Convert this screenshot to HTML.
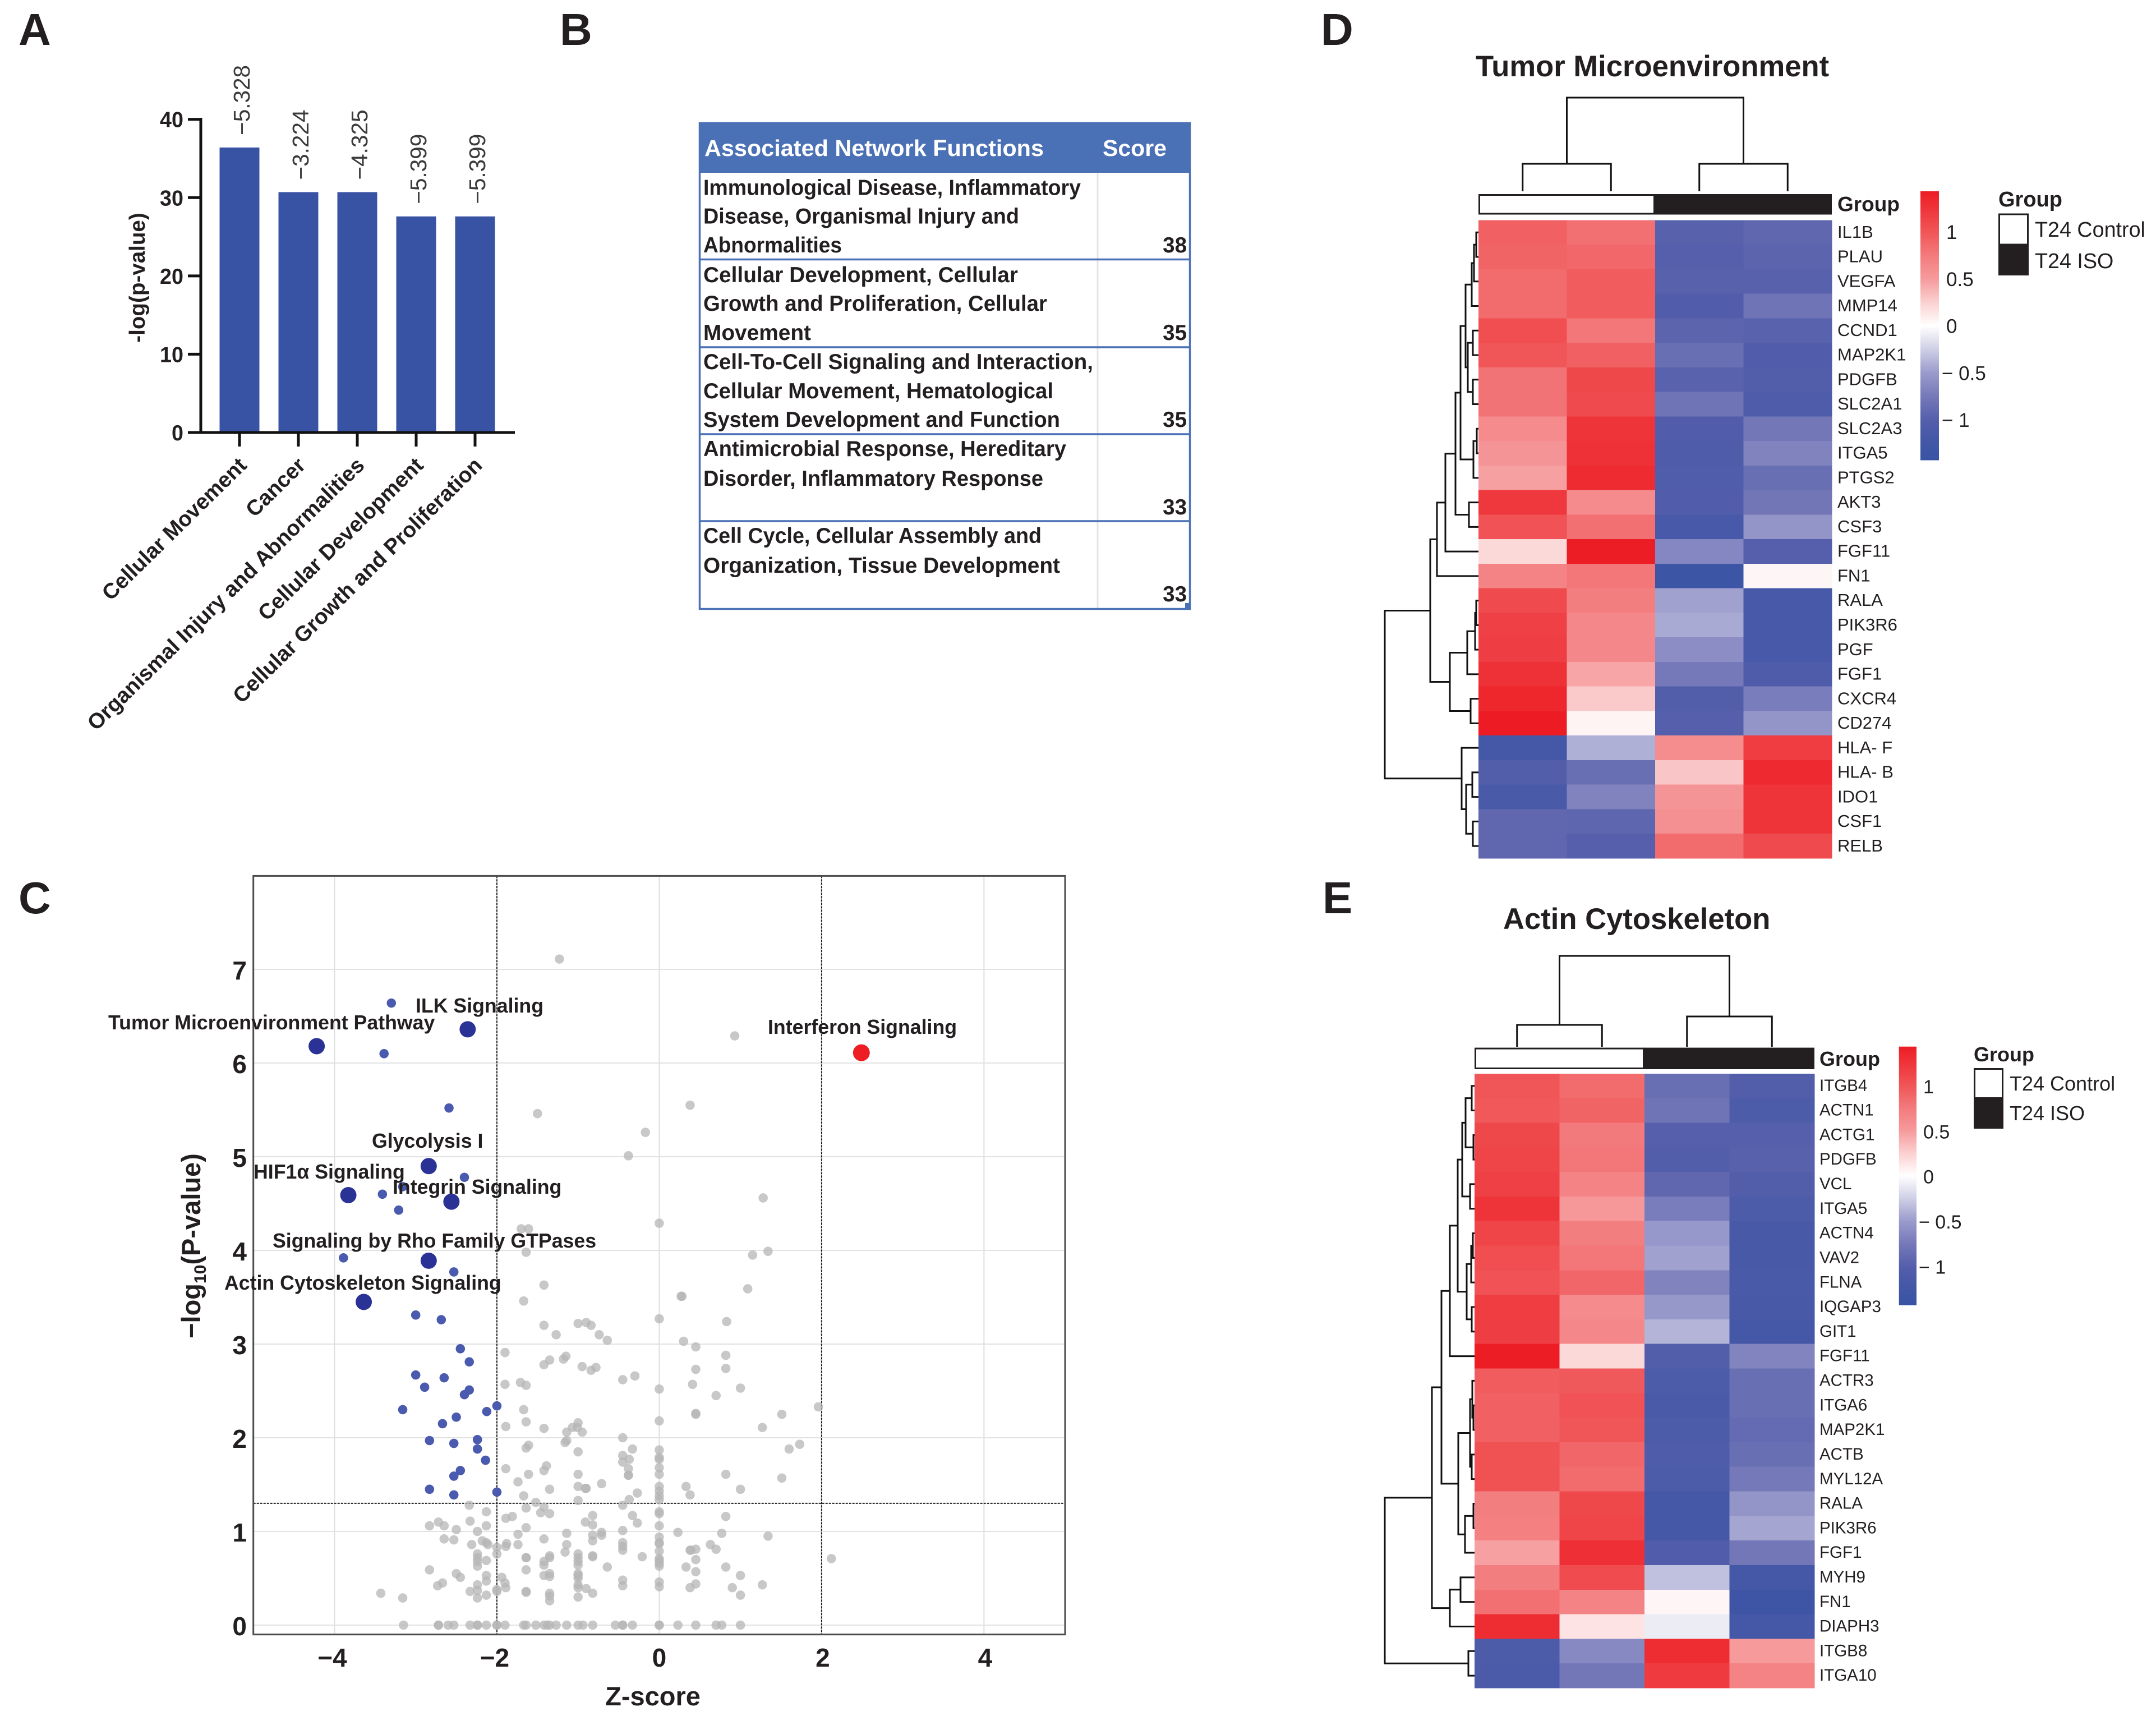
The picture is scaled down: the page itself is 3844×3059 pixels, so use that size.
<!DOCTYPE html>
<html lang="en">
<head>
<meta charset="utf-8">
<title>Multi-panel pathway analysis figure</title>
<style>
html,body{margin:0;padding:0;background:#fff;}
svg{display:block;font-family:"Liberation Sans",Arial,sans-serif;}
text{fill:#231f20;}
.b{font-weight:bold;}
.tb{font-size:38.5px;font-weight:bold;}
.lab{font-size:35.7px;font-weight:bold;}
.pl{font-size:80px;font-weight:bold;}
</style>
</head>
<body>
<svg id="fig" xmlns="http://www.w3.org/2000/svg" width="3844" height="3059" viewBox="0 0 3844 3059">
<rect x="0" y="0" width="3844" height="3059" fill="#fff"/>
<text class="pl" x="33" y="80">A</text>
<text class="pl" x="998" y="80">B</text>
<text class="pl" x="33" y="1628">C</text>
<text class="pl" x="2355" y="80">D</text>
<text class="pl" x="2358" y="1628">E</text>

<g id="panelA"></g>

<g>
  <rect x="1246" y="218" width="877" height="90" fill="#4a70b6"/>
  <line x1="1957" y1="308" x2="1957" y2="1085" stroke="#e4e4e4" stroke-width="3"/>
  <rect x="1247.5" y="219.5" width="874" height="866" fill="none" stroke="#4a70b6" stroke-width="3.5"/>
  <line x1="1246" y1="462.5" x2="2123" y2="462.5" stroke="#4a70b6" stroke-width="3.5"/>
  <line x1="1246" y1="619" x2="2123" y2="619" stroke="#4a70b6" stroke-width="3.5"/>
  <line x1="1246" y1="774" x2="2123" y2="774" stroke="#4a70b6" stroke-width="3.5"/>
  <line x1="1246" y1="929" x2="2123" y2="929" stroke="#4a70b6" stroke-width="3.5"/>
  <rect x="2113" y="1075" width="10" height="11" fill="#4a70b6"/>
  <text class="b" x="1256" y="278" font-size="41" style="fill:#fff" textLength="605" lengthAdjust="spacingAndGlyphs">Associated Network Functions</text>
  <text class="b" x="1966" y="278" font-size="41" style="fill:#fff" textLength="114" lengthAdjust="spacingAndGlyphs">Score</text>
  <text class="tb" x="1254" y="347.5" textLength="673" lengthAdjust="spacingAndGlyphs">Immunological Disease, Inflammatory</text>
  <text class="tb" x="1254" y="398.5" textLength="563" lengthAdjust="spacingAndGlyphs">Disease, Organismal Injury and</text>
  <text class="tb" x="1254" y="450" textLength="247" lengthAdjust="spacingAndGlyphs">Abnormalities</text>
  <text class="tb" x="2116" y="450" text-anchor="end">38</text>
  <text class="tb" x="1254" y="503" textLength="561" lengthAdjust="spacingAndGlyphs">Cellular Development, Cellular</text>
  <text class="tb" x="1254" y="554" textLength="613" lengthAdjust="spacingAndGlyphs">Growth and Proliferation, Cellular</text>
  <text class="tb" x="1254" y="606" textLength="192" lengthAdjust="spacingAndGlyphs">Movement</text>
  <text class="tb" x="2116" y="606" text-anchor="end">35</text>
  <text class="tb" x="1254" y="658" textLength="695" lengthAdjust="spacingAndGlyphs">Cell-To-Cell Signaling and Interaction,</text>
  <text class="tb" x="1254" y="710" textLength="624" lengthAdjust="spacingAndGlyphs">Cellular Movement, Hematological</text>
  <text class="tb" x="1254" y="761" textLength="636" lengthAdjust="spacingAndGlyphs">System Development and Function</text>
  <text class="tb" x="2116" y="761" text-anchor="end">35</text>
  <text class="tb" x="1254" y="813" textLength="647" lengthAdjust="spacingAndGlyphs">Antimicrobial Response, Hereditary</text>
  <text class="tb" x="1254" y="866" textLength="606" lengthAdjust="spacingAndGlyphs">Disorder, Inflammatory Response</text>
  <text class="tb" x="2116" y="917" text-anchor="end">33</text>
  <text class="tb" x="1254" y="968" textLength="603" lengthAdjust="spacingAndGlyphs">Cell Cycle, Cellular Assembly and</text>
  <text class="tb" x="1254" y="1021" textLength="636" lengthAdjust="spacingAndGlyphs">Organization, Tissue Development</text>
  <text class="tb" x="2116" y="1072" text-anchor="end">33</text>
</g>

<g id="panelC"></g>
<g>
  <text class="lab" x="193" y="1835">Tumor Microenvironment Pathway</text>
  <text class="lab" x="741" y="1805">ILK Signaling</text>
  <text class="lab" x="1369" y="1843">Interferon Signaling</text>
  <text class="lab" x="663" y="2046">Glycolysis I</text>
  <text class="lab" x="452" y="2101">HIF1α Signaling</text>
  <text class="lab" x="700" y="2128">Integrin Signaling</text>
  <text class="lab" x="486" y="2224">Signaling by Rho Family GTPases</text>
  <text class="lab" x="400" y="2299">Actin Cytoskeleton Signaling</text>
</g>
<text class="b" x="1164" y="3040" font-size="47" text-anchor="middle">Z-score</text>
<text class="b" transform="translate(357 2221) rotate(-90)" font-size="47" text-anchor="middle">−log<tspan font-size="30" dy="10">10</tspan><tspan dy="-10">(P-value)</tspan></text>

<g id="panelD"></g>
<g id="panelE"></g>

<text class="b" x="2631" y="136" font-size="52.6">Tumor Microenvironment</text>
<text class="b" x="2680" y="1656" font-size="52.6">Actin Cytoskeleton</text>

<g>
  <text class="b" x="3563" y="368" font-size="38">Group</text>
  <rect x="3564.5" y="382" width="51" height="54" fill="#fff" stroke="#231f20" stroke-width="3"/>
  <rect x="3563" y="435" width="54" height="56" fill="#231f20"/>
  <text x="3628" y="422" font-size="37.7">T24 Control</text>
  <text x="3628" y="478" font-size="37.7">T24 ISO</text>
</g>
<g>
  <text class="b" x="3519" y="1892" font-size="36">Group</text>
  <rect x="3520.5" y="1905.5" width="50" height="52" fill="#fff" stroke="#231f20" stroke-width="3"/>
  <rect x="3519" y="1957" width="53" height="55" fill="#231f20"/>
  <text x="3583" y="1944" font-size="36">T24 Control</text>
  <text x="3583" y="1997" font-size="36">T24 ISO</text>
</g>
</svg>

<script>
/* ---------- Panel A data ---------- */
const aCategories = ["Cellular Movement","Cancer","Organismal Injury and Abnormalities","Cellular Development","Cellular Growth and Proliferation"];
const aValues = [36.4,30.7,30.7,27.6,27.6];
const aZLabels = ["−5.328","−3.224","−4.325","−5.399","−5.399"];
const aTicks = [0,10,20,30,40];

/* ---------- Panel C data (z-score, -log10 p) ---------- */
const grayPoints = [
[-1.23,7.11],[-1.50,5.46],[0.93,6.29],[0.38,5.55],[-0.17,5.26],[-0.38,5.01],[1.28,4.56],[0,4.29],[1.34,3.99],[1.15,3.95],[1.09,3.59],[0.27,3.51],
[-1.70,4.23],[-1.61,4.23],[-1.64,3.98],[-1.42,3.63],[-1.67,3.46],
[-1.42,3.20],[-1.27,3.10],[-1.00,3.22],[-0.90,3.23],[-0.84,3.20],[-0.74,3.10],[-0.64,3.04],
[-1.90,2.91],[-1.42,2.78],[-1.35,2.83],[-1.18,2.84],[-1.15,2.87],[-0.95,2.76],[-0.84,2.72],[-0.78,2.75],
[-1.90,2.57],[-1.71,2.59],[-1.64,2.56],[-1.67,2.30],[-1.64,2.17],[-1.89,2.12],[-1.42,2.10],[-1.14,2.06],[-1.07,2.11],[-1.00,2.16],[-1.01,2.11],[-0.95,2.06],
[-1.16,1.95],[-1.14,1.97],[-1.00,1.85],[-1.64,1.89],[-1.61,1.92],
[-1.39,1.70],[-1.42,1.65],[-1.89,1.67],[-1.61,1.61],[-1.00,1.61],[-1.74,1.53],[-0.71,1.51],[-1.00,1.48],[-0.91,1.46],[-0.90,1.46],[-1.35,1.45],[-1.67,1.38],
[-1.00,1.33],[-1.52,1.31],[-2.34,1.28],[-1.42,1.26],[-1.64,1.25],[-2.13,1.21],[-1.46,1.20],[-1.35,1.19],[-0.82,1.17],
[-1.89,1.14],[-1.81,1.16],[-2.33,1.11],[-2.72,1.10],[-2.83,1.06],[-2.65,1.06],[-2.13,1.06],[-2.50,1.02],[-1.64,1.04],[-0.91,1.10],[-0.82,1.07],[-2.24,1.00],[-1.14,0.98],[-0.71,0.99],[-0.71,0.96],[-0.82,0.96],[-1.74,0.97],[-1.42,0.92],
[-2.65,0.92],[-2.53,0.91],[-2.18,0.90],[-2.13,0.88],[-2.11,0.86],[-2.31,0.86],[-1.88,0.87],[-1.89,0.84],[-1.74,0.86],[-1.14,0.86],[-0.82,0.90],[-2.00,0.83],[-2.00,0.76],
[-2.24,0.76],[-2.24,0.72],[-2.24,0.68],[-2.24,0.63],[-2.13,0.69],[-1.64,0.72],[-1.64,0.72],[-1.42,0.68],[-1.35,0.74],[-1.35,0.72],[-1.42,0.64],[-1.16,0.78],[-1.00,0.76],[-1.00,0.72],[-1.00,0.68],[-1.00,0.64],[-0.82,0.74],[-0.82,0.73],[-0.64,0.62],
[-2.83,0.59],[-1.64,0.59],[-2.50,0.55],[-2.45,0.51],[-2.13,0.53],[-2.13,0.47],[-1.94,0.51],[-1.42,0.53],[-1.35,0.55],[-1.35,0.52],[-1.00,0.55],[-1.00,0.53],[-1.00,0.50],
[-2.67,0.45],[-2.73,0.42],[-2.24,0.43],[-1.90,0.45],[-1.89,0.40],[-2.33,0.36],[-2.24,0.37],[-2.00,0.38],[-2.00,0.36],[-1.64,0.36],[-1.64,0.35],[-1.35,0.34],[-1.35,0.31],[-1.00,0.43],[-1.00,0.40],[-0.90,0.39],[-0.82,0.34],[-1.00,0.30],
[-3.43,0.34],[-3.16,0.29],[-2.24,0.29],[-2.13,0.32],[-1.35,0.26],
[0.28,3.51],[0,3.27],[0.83,3.24],[0.30,3.03],[0.45,2.97],[0.82,2.88],[0.45,2.73],[0.82,2.74],[-0.30,2.66],[-0.45,2.62],[0,2.52],[0.41,2.57],[1.00,2.53],[0.70,2.45],[1.96,2.33],[0.45,2.25],[0.45,2.26],[1.51,2.25],[0,2.18],[1.27,2.11],[-0.45,2.00],[1.73,1.93],[1.60,1.88],[-0.33,1.88],[0,1.87],[-0.45,1.81],[-0.37,1.77],[0,1.79],[0,1.77],[-0.45,1.74],[-0.38,1.67],[0,1.68],[0,1.61],[-0.38,1.60],[-0.38,1.60],[0.82,1.61],[1.51,1.57],[0.33,1.48],[0,1.48],[0,1.43],[1.00,1.45],[-0.27,1.41],[0.38,1.39],[0,1.38],[-0.37,1.34],[0,1.34],[-0.45,1.28],[0,1.21],[0,1.19],[-0.33,1.17],[0.82,1.16],[-0.27,1.09],[0,1.06],[-0.45,1.01],[0.23,0.99],[0.77,0.98],[1.34,0.95],[0,0.94],[-0.45,0.88],[0,0.87],[0,0.88],[0.63,0.86],[-0.45,0.84],[-0.45,0.80],[0,0.79],[0.38,0.80],[0.39,0.80],[0.45,0.81],[0.70,0.81],[-0.21,0.73],[2.12,0.71],[0,0.71],[0,0.69],[0.45,0.70],[0,0.66],[0,0.63],[0.33,0.62],[0.82,0.62],[0.45,0.57],[1.00,0.53],[-0.45,0.48],[0,0.46],[-0.45,0.42],[0,0.41],[0.45,0.44],[0.38,0.40],[0.90,0.40],[1.27,0.43],[1.00,0.32]
];
const grayZeroZ = [-3.15,-2.72,-2.72,-2.60,-2.53,-2.33,-2.24,-2.24,-2.13,-2.00,-2.00,-1.90,-1.67,-1.64,-1.52,-1.42,-1.38,-1.35,-1.27,-1.14,-1.00,-0.94,-0.82,-0.54,-0.45,-0.45,-0.33,0,0,0.23,0.45,0.70,0.77,1.00];
const blueSmallPoints = [
[-3.30,6.64],[-3.39,6.10],[-2.59,5.52],[-2.40,4.78],[-3.41,4.60],[-3.16,4.68],[-3.21,4.43],[-3.89,3.92],[-2.53,3.77],
[-3.00,3.31],[-2.685,3.26],[-2.45,2.95],[-2.34,2.81],[-3.00,2.67],[-2.65,2.64],[-2.89,2.54],[-2.34,2.51],[-2.40,2.46],[-3.16,2.30],[-2.00,2.34],[-2.125,2.28],[-2.50,2.22],[-2.67,2.15],[-2.83,1.97],[-2.53,1.94],[-2.24,1.98],[-2.24,1.88],[-2.14,1.76],[-2.45,1.65],[-2.53,1.59],[-2.83,1.45],[-2.53,1.39],[-2.00,1.42]
];
const blueLargeZ = [-4.22,-2.36,-2.84,-3.83,-2.56,-2.84,-3.64];
const blueLargeP = [6.18,6.36,4.90,4.59,4.52,3.89,3.45];
const redZ = [2.49];
const redP = [6.11];
const cXTicks = [-4,-2,0,2,4];
const cYTicks = [0,1,2,3,4,5,6,7];
const zThresholds = [-2,2];
const pThreshold = 1.3;

/* ---------- Heatmap data ---------- */
const dGenes = ["IL1B","PLAU","VEGFA","MMP14","CCND1","MAP2K1","PDGFB","SLC2A1","SLC2A3","ITGA5","PTGS2","AKT3","CSF3","FGF11","FN1","RALA","PIK3R6","PGF","FGF1","CXCR4","CD274","HLA- F","HLA- B","IDO1","CSF1","RELB"];
const dValues = [
[0.92,0.82,-0.98,-0.92],[0.90,0.87,-1.00,-0.95],[0.85,0.95,-0.98,-0.98],[0.85,0.95,-1.05,-0.80],
[1.05,0.78,-0.95,-0.97],[1.00,0.92,-0.85,-1.05],[0.80,1.10,-0.97,-1.03],[0.80,1.08,-0.80,-1.08],
[0.62,1.25,-1.05,-0.77],[0.55,1.27,-1.08,-0.68],[0.47,1.32,-1.07,-0.85],[1.22,0.62,-1.05,-0.78],
[1.02,0.82,-1.17,-0.55],[0.20,1.42,-0.65,-1.00],[0.68,0.78,-1.35,0.05],[1.08,0.72,-0.47,-1.17],
[1.15,0.65,-0.43,-1.17],[1.17,0.65,-0.60,-1.17],[1.27,0.45,-0.75,-1.08],[1.35,0.28,-1.02,-0.72],
[1.43,0.06,-1.00,-0.55],[-1.22,-0.40,0.60,1.18],[-1.02,-0.85,0.30,1.33],[-1.15,-0.68,0.55,1.25],
[-0.92,-0.93,0.58,1.25],[-0.92,-1.00,0.85,1.08]
];
const dRowTree = [167,[86,[74,[59,[41,[32,[23,[12,[8,[4,0,1],2],3],[19,[10,4,5],[10,6,7]]],[9,[3,8,9],10]],[17,11,12]],13],14],[51,[20,[6,[4,15,16],17],18],[14,19,20]]],[30,21,[22,[11,22,23],[10,24,25]]]];
const dColTree = [167,[49,0,1],[49,2,3]];

const eGenes = ["ITGB4","ACTN1","ACTG1","PDGFB","VCL","ITGA5","ACTN4","VAV2","FLNA","IQGAP3","GIT1","FGF11","ACTR3","ITGA6","MAP2K1","ACTB","MYL12A","RALA","PIK3R6","FGF1","MYH9","FN1","DIAPH3","ITGB8","ITGA10"];
const eValues = [
[1.00,0.85,-0.85,-1.02],[0.98,0.90,-0.80,-1.10],[1.10,0.75,-1.00,-1.00],[1.12,0.78,-1.03,-0.98],
[1.15,0.68,-0.92,-1.02],[1.25,0.52,-0.72,-1.10],[1.12,0.72,-0.53,-1.18],[1.05,0.77,-0.47,-1.18],
[1.02,0.88,-0.68,-1.15],[1.18,0.62,-0.52,-1.18],[1.17,0.65,-0.38,-1.20],[1.42,0.20,-1.03,-0.67],
[0.95,0.97,-1.10,-0.85],[0.92,1.02,-1.13,-0.85],[0.92,1.00,-1.10,-0.88],[1.03,0.88,-1.08,-0.85],
[1.03,0.85,-1.10,-0.75],[0.72,1.10,-1.22,-0.55],[0.70,1.12,-1.22,-0.45],[0.47,1.28,-1.05,-0.77],
[0.72,1.07,-0.32,-1.22],[0.82,0.68,0.05,-1.33],[1.30,0.15,-0.10,-1.22],[-1.10,-0.63,1.30,0.50],[-1.12,-0.77,1.20,0.68]
];
const eRowTree = [160,[76,[59,[44,[30,[22,[16,[5,0,1],[2,2,3]],[8,4,5]],[14,[6,[3,6,7],8],[5,9,10]]],11],[29,[8,[4,12,[2,13,14]],[5,15,16]],[17,[2,17,18],19]]],[44,[25,20,21],22]],[11,23,24]];
const eColTree = [162,[39,0,1],[54,2,3]];

const colorTicks = [1,0.5,0,-0.5,-1];
const colorStopValues = [1.43,1,0.75,0.5,0.25,0,-0.25,-0.5,-0.75,-1,-1.2,-1.43];
const colorStopHex = ["#ed1c24","#f05557","#f37a7c","#f69a9c","#fbd0d0","#ffffff","#cfcfe6","#9a9bcc","#7679b9","#555fab","#4558a7","#3953a4"];

/* ---------- Helpers ---------- */
const NS = "http://www.w3.org/2000/svg";
function mk(tag, attrs, parent){
  const n = document.createElementNS(NS, tag);
  for(const k in attrs){ n.setAttribute(k, attrs[k]); }
  parent.appendChild(n);
  return n;
}
function hexRgb(h){ return [parseInt(h.slice(1,3),16),parseInt(h.slice(3,5),16),parseInt(h.slice(5,7),16)]; }
function colorFor(v){
  const vals = colorStopValues;
  if(v >= vals[0]) return colorStopHex[0];
  if(v <= vals[vals.length-1]) return colorStopHex[vals.length-1];
  for(let i=0;i<vals.length-1;i++){
    if(v <= vals[i] && v >= vals[i+1]){
      const t = (vals[i]-v)/(vals[i]-vals[i+1]);
      const a = hexRgb(colorStopHex[i]), b = hexRgb(colorStopHex[i+1]);
      return "rgb("+a.map((c,j)=>Math.round(c+(b[j]-c)*t)).join(",")+")";
    }
  }
  return "#fff";
}
function treeDraw(node, posFn, heightFn, parent, name, horizontal){
  if(typeof node === "number") return {pos:posFn(node), h:0};
  const a = treeDraw(node[1], posFn, heightFn, parent, name, horizontal);
  const b = treeDraw(node[2], posFn, heightFn, parent, name, horizontal);
  const h = node[0];
  const d = horizontal
    ? "M"+heightFn(a.h)+" "+a.pos+"H"+heightFn(h)+"V"+b.pos+"H"+heightFn(b.h)
    : "M"+a.pos+" "+heightFn(a.h)+"V"+heightFn(h)+"H"+b.pos+"V"+heightFn(b.h);
  const link = mk("path",{d:d,fill:"none",stroke:"#111",'stroke-width':3},parent);
  
  
  return {pos:(a.pos+b.pos)/2, h:h};
}

/* ---------- Panel A ---------- */
(function(){
  const g = document.getElementById("panelA");
  const y = v => 771 - v*(771-212.7)/40;
  const x = i => 427 + i*105;
  aValues.forEach((v,i)=>{
    const bar = mk("rect",{x:x(i)-35.5,y:y(v),width:71,height:771-y(v),fill:"#3953a4"},g);
    
    
    const val = mk("text",{transform:"translate("+(x(i)+18)+" "+(y(v)-22)+") rotate(-90)",'font-size':40.5,style:"fill:#3a3a3a"},g);
    
    
    val.textContent = aZLabels[i];
    const tick = mk("line",{x1:x(i),x2:x(i),y1:771,y2:796,stroke:"#111",'stroke-width':5},g);
    
    
    const lab = mk("text",{transform:"translate("+(x(i)+15)+" 832) rotate(-44.5)",'font-size':38.6,'font-weight':"bold",'text-anchor':"end"},g);
    
    
    lab.textContent = aCategories[i];
  });
  aTicks.forEach(t=>{
    const tick = mk("line",{x1:335,x2:358,y1:y(t),y2:y(t),stroke:"#111",'stroke-width':5},g);
    
    
    const lab = mk("text",{x:327,y:y(t)+14,'font-size':39,'font-weight':"bold",'text-anchor':"end",textLength:t===0?21:42,lengthAdjust:"spacingAndGlyphs"},g);
    
    
    lab.textContent = t;
  });
  const yAxis = mk("line",{x1:358,x2:358,y1:210,y2:773,stroke:"#111",'stroke-width':5},g);
  
  
  const xAxis = mk("line",{x1:335,x2:918,y1:771,y2:771,stroke:"#111",'stroke-width':5},g);
  
  
  const title = mk("text",{transform:"translate(258 495) rotate(-90)",'font-size':38.6,'font-weight':"bold",'text-anchor':"middle"},g);
  
  
  title.textContent = "-log(p-value)";
})();

/* ---------- Panel C ---------- */
(function(){
  const g = document.getElementById("panelC");
  const L=451.7,R=1899,T=1561.4,B=2913.7;
  const x = z => 1175.4 + z*144.74;
  const y = p => 2897 - p*167;
  cXTicks.forEach(t=>{
    const grid = mk("line",{x1:x(t),x2:x(t),y1:T,y2:B,stroke:"#dedede",'stroke-width':2},g);
    
    
    const lab = mk("text",{x:x(t)+(t<0?-4:t>0?2:0),y:2971,'font-size':46,'font-weight':"bold",'text-anchor':"middle"},g);
    
    
    lab.textContent = (t<0?"−":"")+Math.abs(t);
  });
  cYTicks.forEach(t=>{
    const grid = mk("line",{x1:L,x2:R,y1:y(t),y2:y(t),stroke:"#e2e2e2",'stroke-width':2},g);
    
    
    const lab = mk("text",{x:440,y:y(t)+18,'font-size':46,'font-weight':"bold",'text-anchor':"end"},g);
    
    
    lab.textContent = t;
  });
  zThresholds.forEach(t=>{
    const ln = mk("line",{x1:x(t),x2:x(t),y1:T,y2:B,stroke:"#1e1e1e",'stroke-width':2,'stroke-dasharray':"4 2"},g);
    
    
  });
  const pl = mk("line",{x1:L,x2:R,y1:y(pThreshold),y2:y(pThreshold),stroke:"#1e1e1e",'stroke-width':2,'stroke-dasharray':"4 2"},g);
  
  
  const frame = mk("rect",{x:L,y:T,width:R-L,height:B-T,fill:"none",stroke:"#4d4d4d",'stroke-width':3},g);
  
  
  grayPoints.forEach(p=>{
    const c = mk("circle",{cx:x(p[0]),cy:y(p[1]),r:8.3,fill:"#b6b6b6",'fill-opacity':0.75},g);
    
    
  });
  grayZeroZ.forEach(z=>{
    const c = mk("circle",{cx:x(z),cy:y(0),r:8.3,fill:"#b6b6b6",'fill-opacity':0.75},g);
    
    
  });
  blueSmallPoints.forEach(p=>{
    const c = mk("circle",{cx:x(p[0]),cy:y(p[1]),r:8.3,fill:"#4a5aae"},g);
    
    
  });
  blueLargeZ.forEach((z,i)=>{
    const c = mk("circle",{cx:x(z),cy:y(blueLargeP[i]),r:14.5,fill:"#2a3296"},g);
    
    
  });
  redZ.forEach((z,i)=>{
    const c = mk("circle",{cx:x(z),cy:y(redP[i]),r:15,fill:"#ee1c25"},g);
    
    
  });
})();

/* ---------- Heatmaps ---------- */
function drawHeatmap(g, c){
  const rh = (c.bottom-c.top)/c.genes.length;
  const cw = (c.right-c.left)/4;
  c.values.forEach((row,r)=>{
    row.forEach((v,k)=>{
      const cell = mk("rect",{x:c.left+k*cw,y:c.top+r*rh,width:cw+0.5,height:rh+0.5,fill:colorFor(v),'shape-rendering':"crispEdges"},g);
      
      
    });
    const lab = mk("text",{x:c.labelX,y:c.top+r*rh+rh/2+c.labelSize*0.36-1.5,'font-size':c.labelSize},g);
    
    
    lab.textContent = c.genes[r];
  });
  treeDraw(c.rowTree, i=>c.top+i*rh+rh/2, h=>c.left-h, g, 'row-dendrogram-link', true);
  treeDraw(c.colTree, i=>c.left+i*cw+cw/2, h=>c.dendroBase-h, g, 'column-dendrogram-link', false);
  const midX = c.left+(c.right-c.left)/2-3;
  const gw = mk("rect",{x:c.left+1.5,y:c.barTop+1.5,width:midX-c.left,height:c.barBottom-c.barTop-3,fill:"#fff",stroke:"#231f20",'stroke-width':3},g);
  
  
  const gb = mk("rect",{x:midX,y:c.barTop,width:c.right-midX,height:c.barBottom-c.barTop,fill:"#231f20"},g);
  
  
  const gl = mk("text",{x:c.labelX,y:c.barBottom-6,'font-size':c.groupSize,'font-weight':"bold"},g);
  
  
  gl.textContent = "Group";
  /* colour bar */
  const id = "grad"+c.id;
  const grad = mk("linearGradient",{id:id,x1:0,y1:0,x2:0,y2:1},g);
  colorStopValues.forEach((v,i)=>{
    mk("stop",{offset:(colorStopValues[0]-v)/(colorStopValues[0]-colorStopValues[colorStopValues.length-1]),'stop-color':colorStopHex[i]},grad);
  });
  const cbY = v => c.cbZero - v*c.cbUnit;
  const cb = mk("rect",{x:c.cbLeft,y:c.cbTop,width:c.cbRight-c.cbLeft,height:c.cbBottom-c.cbTop,fill:"url(#"+id+")"},g);
  
  
  colorTicks.forEach(t=>{
    const lab = mk("text",{x:t<0?c.cbTextX-8:c.cbTextX,y:cbY(t)+13,'font-size':c.cbSize},g);
    
    
    lab.textContent = t<0 ? "− "+Math.abs(t) : String(t);
  });
}
drawHeatmap(document.getElementById("panelD"),{
  id:"D",genes:dGenes,values:dValues,rowTree:dRowTree,colTree:dColTree,
  left:2636,right:3266,top:392.4,bottom:1530,labelX:3276,labelSize:31,groupSize:37,
  barTop:346,barBottom:382.5,dendroBase:341,
  cbLeft:3424,cbRight:3457,cbTop:341,cbBottom:820.5,cbZero:580.5,cbUnit:167.5,cbTextX:3470,cbSize:35
});
drawHeatmap(document.getElementById("panelE"),{
  id:"E",genes:eGenes,values:eValues,rowTree:eRowTree,colTree:eColTree,
  left:2629,right:3235,top:1913.8,bottom:3009,labelX:3244,labelSize:29.5,groupSize:36,
  barTop:1867.6,barBottom:1906,dendroBase:1866,
  cbLeft:3385.7,cbRight:3417,cbTop:1865.7,cbBottom:2326.7,cbZero:2096.7,cbUnit:160.6,cbTextX:3429,cbSize:34
});
</script>
</body>
</html>
